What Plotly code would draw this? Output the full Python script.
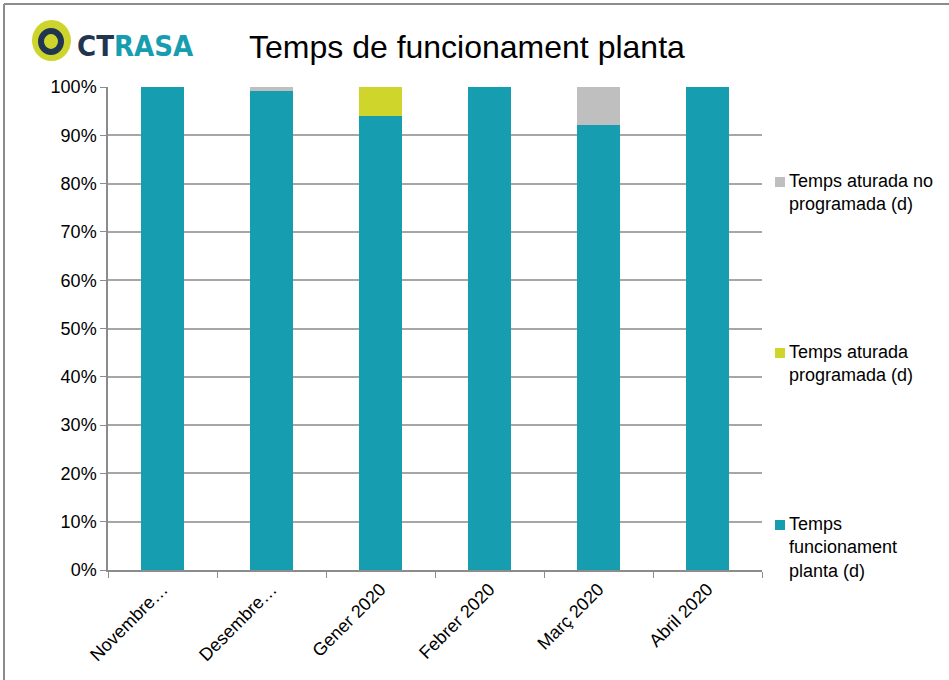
import plotly.graph_objects as go

months = ['Novembre…', 'Desembre…', 'Gener 2020', 'Febrer 2020', 'Març 2020', 'Abril 2020']
funcionament = [100, 99.2, 94.0, 100, 92.1, 100]
aturada_prog = [0, 0, 6.0, 0, 0, 0]
aturada_no_prog = [0, 0.8, 0, 0, 7.9, 0]
y_ticks = list(range(0, 101, 10))
y_labels = [f'{v}%' for v in y_ticks]

series = [
    ('Temps funcionament planta (d)', funcionament, '#169EB0',
     'Temps<br>funcionament<br>planta (d)', 525),
    ('Temps aturada programada (d)', aturada_prog, '#CFD52A',
     'Temps aturada<br>programada (d)', 353),
    ('Temps aturada no programada (d)', aturada_no_prog, '#BFBFBF',
     'Temps aturada no<br>programada (d)', 182),
]

W, H = 949, 680
L, R, T, B = 108, 762, 87, 570


def px(x):
    return (x - L) / (R - L)


def py(y):
    return (B - y) / (B - T)


fig = go.Figure()
for name, vals, color, _, _ in series:
    fig.add_trace(go.Bar(x=months, y=vals, name=name, marker_color=color,
                         marker_line_width=0, showlegend=False))

font = 'Liberation Sans, Arial, sans-serif'

# legend drawn by hand to keep the wide Excel spacing
annotations = []
shapes = []
for name, vals, color, label, ytop in series:
    shapes.append(dict(type='rect', xref='paper', yref='paper',
                       x0=px(775), x1=px(785), y0=py(ytop + 5), y1=py(ytop - 5),
                       fillcolor=color, line_width=0))
    annotations.append(dict(text=label, xref='paper', yref='paper',
                            x=px(787), y=py(ytop - 13), xanchor='left', yanchor='top',
                            align='left', showarrow=False,
                            font=dict(family=font, size=18, color='#000')))

# title
annotations.append(dict(text='Temps de funcionament planta', xref='paper', yref='paper',
                        x=px(467), y=py(47), xanchor='center', yanchor='middle',
                        showarrow=False, font=dict(family=font, size=32, color='#000')))
# logo text
annotations.append(dict(text='<b><span style="color:#1F3550">CT</span>'
                             '<span style="color:#169EB0">RASA</span></b>',
                        xref='paper', yref='paper', x=px(75), y=py(46),
                        xanchor='left', yanchor='middle', showarrow=False,
                        font=dict(family='DejaVu Sans Condensed', size=29)))

# logo icon
shapes += [
    dict(type='circle', xref='paper', yref='paper',
         x0=px(32), x1=px(71), y0=py(61), y1=py(20),
         fillcolor='#CDD52C', line_width=0),
    dict(type='circle', xref='paper', yref='paper',
         x0=px(41), x1=px(61), y0=py(52), y1=py(31),
         fillcolor='rgba(0,0,0,0)', line=dict(color='#1F3550', width=6)),
]

# frame border (top and left)
shapes += [
    dict(type='line', xref='paper', yref='paper', x0=px(4), x1=px(949),
         y0=py(4), y1=py(4), line=dict(color='#8C8C8C', width=2)),
    dict(type='line', xref='paper', yref='paper', x0=px(4), x1=px(4),
         y0=py(4), y1=py(680), line=dict(color='#8C8C8C', width=2)),
]

fig.update_layout(
    width=W, height=H,
    margin=dict(l=L, r=W - R, t=T, b=H - B, pad=0),
    barmode='stack', bargap=0.6,
    plot_bgcolor='white', paper_bgcolor='white',
    font=dict(family=font, size=18, color='#000'),
    annotations=annotations, shapes=shapes,
    showlegend=False,
)
fig.update_xaxes(
    tickangle=-45, ticks='outside', ticklen=6, tickcolor='#8C8C8C',
    tickson='boundaries', showline=True, linecolor='#8C8C8C', linewidth=1.5,
    showgrid=False, tickfont=dict(size=18),
)
fig.update_yaxes(
    range=[0, 100], tickvals=y_ticks, ticktext=y_labels,
    ticks='outside', ticklen=6, tickcolor='#8C8C8C',
    showline=True, linecolor='#8C8C8C', linewidth=1.5,
    showgrid=True, gridcolor='#A6A6A6', gridwidth=1.5,
    zeroline=False, tickfont=dict(size=18),
)

fig.write_html('out.html', config={'displayModeBar': False},
               post_script="document.body.style.margin='0';")
